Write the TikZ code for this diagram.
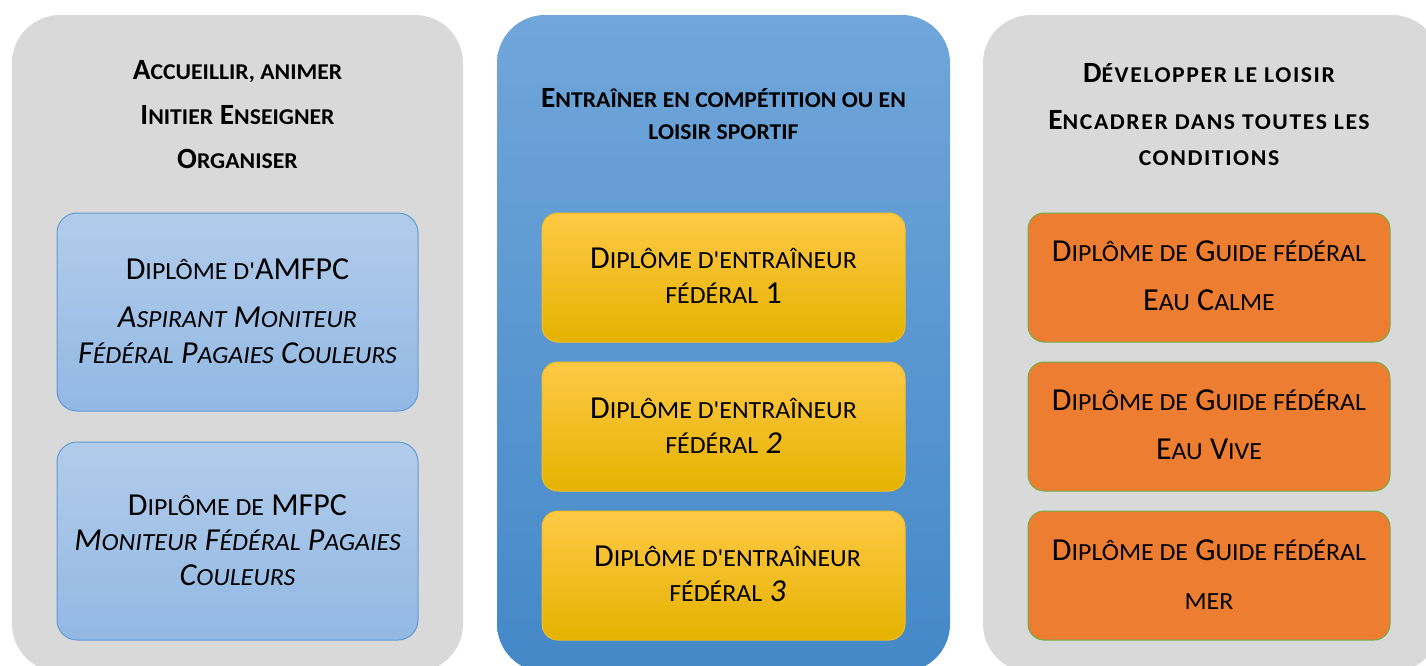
\documentclass[tikz,border=0pt]{standalone}
\usepackage{fontspec}
\setmainfont{Carlito}
\newfontfamily\smc[Scale=0.77,FakeStretch=1.05]{Carlito}
\newfontfamily\wcap[LetterSpace=5.5]{Carlito}
\newfontfamily\wsmc[Scale=0.77,FakeStretch=1.05,LetterSpace=7]{Carlito}
\newcommand\lc[1]{{\smc #1}}
\newcommand\lw[1]{{\wsmc #1}}
\newcommand\tb[3]{\parbox[t]{330pt}{\centering\fontsize{#1}{#2}\selectfont #3}}
\definecolor{panelgray}{RGB}{217,217,217}
\definecolor{midtop}{RGB}{112,166,218}
\definecolor{midbot}{RGB}{68,136,200}
\definecolor{lbtop}{RGB}{178,204,235}
\definecolor{lbbot}{RGB}{146,184,227}
\definecolor{lbdraw}{RGB}{95,155,213}
\definecolor{yetop}{RGB}{255,201,70}
\definecolor{yemid}{RGB}{255,192,0}
\definecolor{yebot}{RGB}{228,178,0}
\definecolor{yedraw}{RGB}{245,190,30}
\definecolor{orfill}{RGB}{237,125,49}
\definecolor{ordraw}{RGB}{112,173,71}
\begin{document}
\begin{tikzpicture}[x=0.75pt,y=-0.75pt,
  panel/.style={rounded corners=36pt},
  bluebox/.style={draw=lbdraw, line width=0.75pt, top color=lbtop, bottom color=lbbot,
     rounded corners=15pt, minimum width=270.75pt, minimum height=148.5pt, inner sep=0pt},
  yellowbox/.style={draw=yedraw, line width=0.75pt, top color=yetop, middle color=yemid, bottom color=yebot,
     rounded corners=12pt, minimum width=272.25pt, minimum height=96.75pt, inner sep=0pt},
  orangebox/.style={draw=ordraw, line width=0.75pt, fill=orfill,
     rounded corners=12pt, minimum width=271.5pt, minimum height=96.75pt, inner sep=0pt},
  txt/.style={inner sep=0pt, anchor=base}]
\useasboundingbox (0,0) rectangle (1426,665);
\clip (0,0) rectangle (1426,665);
% panels
\path[panel, fill=panelgray] (12,15) rectangle (463,672);
\path[panel, top color=midtop, bottom color=midbot] (497,15) rectangle (950,672);
\path[panel, fill=panelgray] (983,15) rectangle (1440,672);
% left column
\node[txt] (h1) at (237.5,79.5) {\tb{22pt}{33.4pt}{\bfseries A\lc{CCUEILLIR, ANIMER}\\I\lc{NITIER} E\lc{NSEIGNER}\\O\lc{RGANISER}}};
\node[bluebox] (a1) at (237.5,312) {};
\node[bluebox] (a2) at (237.5,541) {};
\node[txt] (ta1) at (237.5,279.3) {\tb{24pt}{27pt}{D\lc{IPLÔME D'}AMFPC\\[9.3pt]\itshape A\lc{SPIRANT} M\lc{ONITEUR}\\F\lc{ÉDÉRAL} P\lc{AGAIES} C\lc{OULEURS}}};
\node[txt] (ta2) at (237.5,515) {\tb{24pt}{26.25pt}{D\lc{IPLÔME DE} MFPC\\\itshape M\lc{ONITEUR} F\lc{ÉDÉRAL} P\lc{AGAIES}\\C\lc{OULEURS}}};
% middle column
\node[txt] (h2) at (723.5,107.3) {\tb{22pt}{23.8pt}{\bfseries E\lc{NTRAÎNER EN COMPÉTITION OU EN}\\\lc{LOISIR SPORTIF}}};
\node[yellowbox] (e1) at (723.5,277.5) {};
\node[yellowbox] (e2) at (723.5,426.5) {};
\node[yellowbox] (e3) at (723.5,575.5) {};
\node[txt] (te1) at (723.5,268.7) {\tb{24pt}{26.25pt}{D\lc{IPLÔME D'ENTRAÎNEUR}\\\lc{FÉDÉRAL} 1}};
\node[txt] (te2) at (723.5,418.3) {\tb{24pt}{26.25pt}{D\lc{IPLÔME D'ENTRAÎNEUR}\\\lc{FÉDÉRAL} \textit{2}}};
\node[txt] (te3) at (727.5,566.7) {\tb{24pt}{26.25pt}{D\lc{IPLÔME D'ENTRAÎNEUR}\\\lc{FÉDÉRAL} \textit{3}}};
% right column
\node[txt] (h3) at (1209,82) {\tb{22pt}{27.3pt}{\wcap\bfseries D\lw{ÉVELOPPER LE LOISIR}\\[8.2pt]E\lw{NCADRER DANS TOUTES LES}\\\lw{CONDITIONS}}};
\node[orangebox] (g1) at (1209,277.5) {};
\node[orangebox] (g2) at (1209,426.5) {};
\node[orangebox] (g3) at (1209,575.5) {};
\node[txt] (tg1) at (1209,261.7) {\tb{24pt}{36.8pt}{D\lc{IPLÔME DE} G\lc{UIDE FÉDÉRAL}\\E\lc{AU} C\lc{ALME}}};
\node[txt] (tg2) at (1209,410.7) {\tb{24pt}{36.8pt}{D\lc{IPLÔME DE} G\lc{UIDE FÉDÉRAL}\\E\lc{AU} V\lc{IVE}}};
\node[txt] (tg3) at (1209,560) {\tb{24pt}{36.8pt}{D\lc{IPLÔME DE} G\lc{UIDE FÉDÉRAL}\\\lc{MER}}};
\end{tikzpicture}
\end{document}
